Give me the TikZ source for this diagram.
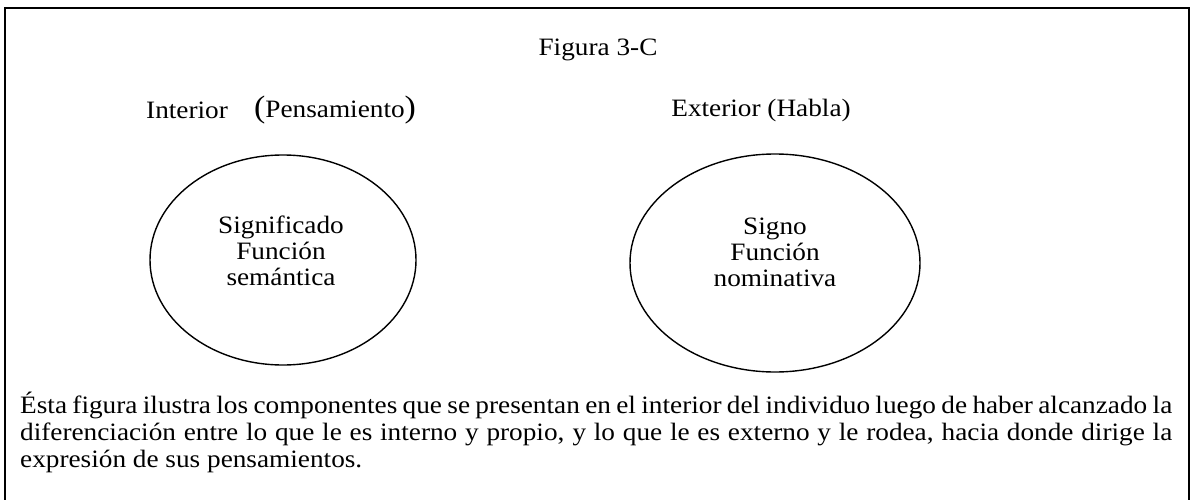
\documentclass[tikz,border=0pt]{standalone}
\usepackage{fontspec}
\setmainfont[FakeStretch=1.09]{Liberation Serif}
\usetikzlibrary{shapes.geometric}
\begin{document}
\begin{tikzpicture}[x=1pt,y=1pt,
  lbl/.style={font=\fontsize{25}{27}\selectfont, inner sep=0pt},
  circ/.style={draw, line width=1.4pt, ellipse, inner sep=0pt},
  inside/.style={font=\fontsize{25}{26}\selectfont, align=center, inner sep=0pt}]
\useasboundingbox (0,0) rectangle (1193,499);
\draw[line width=1.6pt] (5,-10) -- (5,491) -- (1189,491) -- (1189,-10);
\node[lbl] (fig) at (598,449) {Figura 3-C};
\node[lbl, anchor=west] (int) at (146,389) {Interior};
\node[lbl, anchor=west] (pens) at (254,389) {{\fontsize{31}{31}\selectfont(}Pensamiento{\fontsize{31}{31}\selectfont)}};
\node[lbl] (ext) at (761,389) {Exterior (Habla)};
\node[circ, minimum width=266pt, minimum height=210pt] (e1) at (283,239) {};
\node[circ, minimum width=290pt, minimum height=218pt] (e2) at (775,236) {};
\node[inside] (t1) at (281,248) {Significado\\Función\\semántica};
\node[inside] (t2) at (775,247) {Signo\\Función\\nominativa};
\node[lbl, anchor=north west, text width=1152pt, align=justify] (par) at (20,107)
 {Ésta figura ilustra los componentes que se presentan en el interior del individuo luego de haber alcanzado la\linebreak diferenciación entre lo que le es interno y propio, y lo que le es externo y le rodea, hacia donde dirige la\linebreak expresión de sus pensamientos.};
\end{tikzpicture}
\end{document}
